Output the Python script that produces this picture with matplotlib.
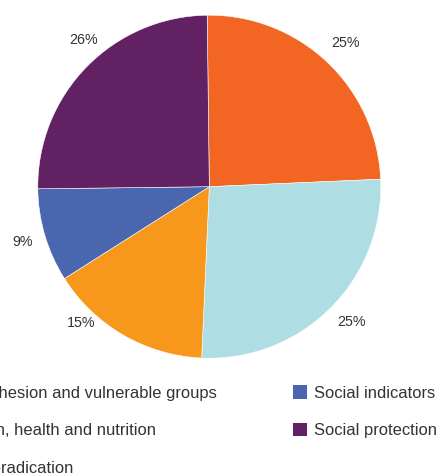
import numpy as np
import matplotlib
matplotlib.use('Agg')
import matplotlib.pyplot as plt

plt.rcParams['font.family'] = ['Liberation Sans', 'DejaVu Sans']

# categories, in legend order (same as clockwise order from 12 o'clock)
categories = ['Social cohesion and vulnerable groups',
              'Education, health and nutrition',
              'Poverty eradication',
              'Social indicators',
              'Social protection']
# shares
shares = [24.5, 26.4, 15.3, 8.8, 25.0]
# percentage labels as printed on the chart
pct_labels = ['25%', '25%', '15%', '9%', '26%']
colors = ['#F26522', '#AEDDE3', '#F7981D', '#4A66AE', '#622163']

# label placement tweaks (angle nudge in degrees, radius as fraction of pie radius)
label_nudge = [0, 1.5, -13, 0, -5]
label_rad = [1.155, 1.143, 1.09, 1.137, 1.125]

W, H = 439, 475
fig = plt.figure(figsize=(W / 100, H / 100), dpi=100)

cx, cy, r = 209.3, 186.7, 171.5
ax = fig.add_axes([(cx - r) / W, (H - cy - r) / H, 2 * r / W, 2 * r / H])
wedges, _ = ax.pie(shares, colors=colors, startangle=90.7, counterclock=False,
                   wedgeprops=dict(edgecolor='white', linewidth=0.4))
ax.set_xlim(-1, 1)
ax.set_ylim(-1, 1)
ax.axis('off')

for w, lab, dn, rr in zip(wedges, pct_labels, label_nudge, label_rad):
    ang = np.deg2rad((w.theta1 + w.theta2) / 2 + dn)
    ax.text(rr * np.cos(ang), rr * np.sin(ang), lab, ha='center', va='center',
            fontsize=10.3, color='#333333', clip_on=False)

leg = fig.legend(wedges, categories, ncol=2, loc='upper right',
                 bbox_to_anchor=(437 / W, 1 - 385 / H), frameon=False,
                 fontsize=11.9, labelcolor='#333333',
                 handlelength=0.9, handleheight=0.9, handletextpad=0.4,
                 columnspacing=4.6, labelspacing=1.33,
                 borderpad=0, borderaxespad=0)
for h in leg.legend_handles:
    h.set_edgecolor('none')

fig.savefig('out.png', dpi=100)
